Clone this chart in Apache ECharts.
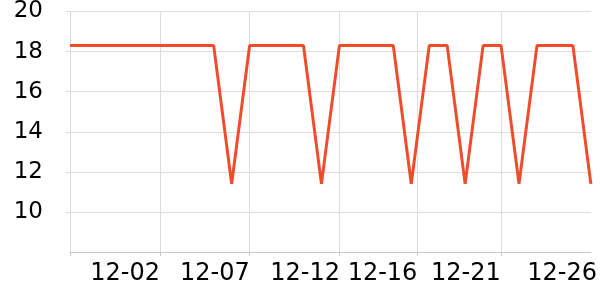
<!DOCTYPE html>
<html><head><meta charset="utf-8">
<script src="https://cdn.jsdelivr.net/npm/echarts@6/dist/echarts.min.js"></script>
<style>html,body{margin:0;padding:0;background:#fff}#c{width:600px;height:300px}</style>
</head><body><div id="c"></div>
<script>
// dates (index 0 .. 29)
const categories = ['11-29','11-30','12-01','12-02','12-03','12-04','12-05','12-06','12-07','12-08',
  '12-09','12-10','12-11','12-12','12-13','12-14','12-15','12-16','12-17','12-18',
  '12-19','12-20','12-21','12-22','12-23','12-24','12-25','12-26','12-27','12-28'];
const values = [18.3,18.3,18.3,18.3,18.3,18.3,18.3,18.3,18.3,11.4,
  18.3,18.3,18.3,18.3,11.4,18.3,18.3,18.3,18.3,11.4,
  18.3,18.3,11.4,18.3,18.3,11.4,18.3,18.3,18.3,11.4];
const tickLabels = ['12-02','12-07','12-12','12-16','12-21','12-26'];
const labelAt = [3.07, 8.07, 13.09, 17.4, 22.04, 27.4];   // axis positions of tick labels
const gridAt = [0, 5, 10, 15, 19.33, 24];                   // axis positions of vertical grid lines
const yTicks = [10, 12, 14, 16, 18, 20];

const chart = echarts.init(document.getElementById('c'), null, {renderer: 'canvas'});
chart.setOption({
  animation: false,
  grid: {left: 70, right: 6, top: 10, bottom: 48, containLabel: false},
  xAxis: {
    type: 'value', min: 0, max: categories.length - 1,
    axisLine: {show: true, lineStyle: {color: '#c8c8c8', width: 1}},
    axisTick: {show: true, length: 4, customValues: gridAt, lineStyle: {color: '#c8c8c8'}},
    splitLine: {show: true, lineStyle: {color: '#dddddd', width: 1}},
    axisLabel: {
      customValues: labelAt,
      formatter: v => { const i = labelAt.indexOf(v); return i >= 0 ? tickLabels[i] : ''; },
      fontFamily: 'DejaVu Sans', fontSize: 24, color: '#000', margin: 10
    }
  },
  yAxis: {
    type: 'value', min: 8, max: 20, interval: 2,
    axisLine: {show: true, lineStyle: {color: '#dddddd'}},
    axisTick: {show: true, length: 4, lineStyle: {color: '#dddddd'}},
    splitLine: {show: true, lineStyle: {color: '#dddddd', width: 1}},
    axisLabel: {
      showMinLabel: false,
      formatter: v => yTicks.indexOf(v) >= 0 ? String(v) : '',
      fontFamily: 'DejaVu Sans', fontSize: 23, color: '#000', margin: 27
    }
  },
  series: [{
    type: 'line',
    data: values.map((v, i) => [i, v]),
    showSymbol: false, symbol: 'none',
    lineStyle: {color: '#f04c2c', width: 3},
    itemStyle: {color: '#f04c2c'}
  }]
});
</script></body></html>
